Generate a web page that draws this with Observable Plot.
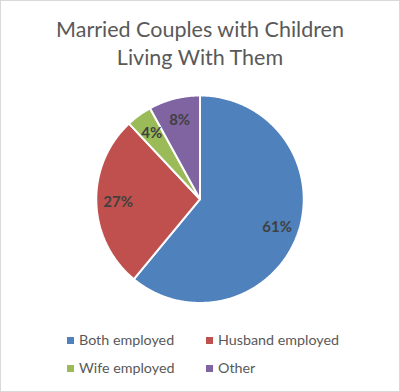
<!DOCTYPE html>
<html>
<head>
<meta charset="utf-8">
<script src="https://cdn.jsdelivr.net/npm/d3@7"></script>
<script src="https://cdn.jsdelivr.net/npm/@observablehq/plot@0.6"></script>
<style>
  html, body { margin: 0; padding: 0; background: #fff; }
  #frame { position: relative; width: 400px; height: 392px; box-sizing: border-box; border: 1px solid #d9d9d9; background: #fff; font-family: Lato, "Open Sans", sans-serif; overflow: hidden; }
  #title { position: absolute; left: 0; top: 14px; width: 398px; text-align: center; font-size: 21.5px; line-height: 28px; color: #595959; }
  #chart { position: absolute; left: -1px; top: 77px; }
  .leg { position: absolute; font-size: 14.3px; color: #595959; white-space: nowrap; line-height: 16px; }
  .sw { display: inline-block; width: 7px; height: 7px; margin-right: 5px; vertical-align: 1px; }
</style>
</head>
<body>
<div id="frame">
  <div id="title">Married Couples with Children<br>Living With Them</div>
  <div id="chart"></div>
  <div id="legend"></div>
</div>
<script>
const categories = ["Both employed", "Husband employed", "Wife employed", "Other"];
const values = [61, 27, 4, 8];
const colors = ["#4F81BD", "#C0504D", "#9BBB59", "#8064A2"];
const labels = ["61%", "27%", "4%", "8%"];

const W = 400, H = 242, R = 104, CY = 121;
const pie = d3.pie().sort(null).value(d => d.value)(categories.map((c, i) => ({category: c, value: values[i], label: labels[i]})));

// polygon outline points for each slice (angles from d3.pie)
const pts = [];
pie.forEach(s => {
  const n = Math.max(4, Math.ceil((s.endAngle - s.startAngle) / 0.01));
  pts.push({category: s.data.category, x: 0, y: 0});
  for (let k = 0; k <= n; k++) {
    const a = s.startAngle + (s.endAngle - s.startAngle) * k / n;
    pts.push({category: s.data.category, x: R * Math.sin(a), y: -R * Math.cos(a)});
  }
  pts.push({category: s.data.category, x: 0, y: 0});
});
const labelPts = pie.map(s => {
  const a = (s.startAngle + s.endAngle) / 2;
  return {label: s.data.label, x: 0.79 * R * Math.sin(a), y: -0.79 * R * Math.cos(a)};
});

const plot = Plot.plot({
  width: W, height: H,
  margin: 0,
  x: {domain: [-W / 2, W / 2], range: [0, W], axis: null},
  y: {domain: [-CY, H - CY], range: [0, H], axis: null},
  color: {domain: categories, range: colors},
  style: {background: "transparent"},
  marks: [
    Plot.line(pts, {x: "x", y: "y", z: "category", fill: "category", stroke: "white", strokeWidth: 2, strokeLinejoin: "miter", curve: "linear"}),
    Plot.text(labelPts, {x: "x", y: "y", text: "label", fill: "#404040", fontSize: 15, fontWeight: "bold", fontFamily: "Lato, 'Open Sans', sans-serif"})
  ]
});
document.getElementById("chart").appendChild(plot);

// legend
const legPos = [[66, 331], [205, 331], [66, 359], [205, 359]];
const legend = document.getElementById("legend");
categories.forEach((c, i) => {
  const d = document.createElement("div");
  d.className = "leg";
  d.style.left = legPos[i][0] + "px";
  d.style.top = legPos[i][1] + "px";
  d.innerHTML = `<span class="sw" style="background:${colors[i]}"></span>${c}`;
  legend.appendChild(d);
});
</script>
</body>
</html>
